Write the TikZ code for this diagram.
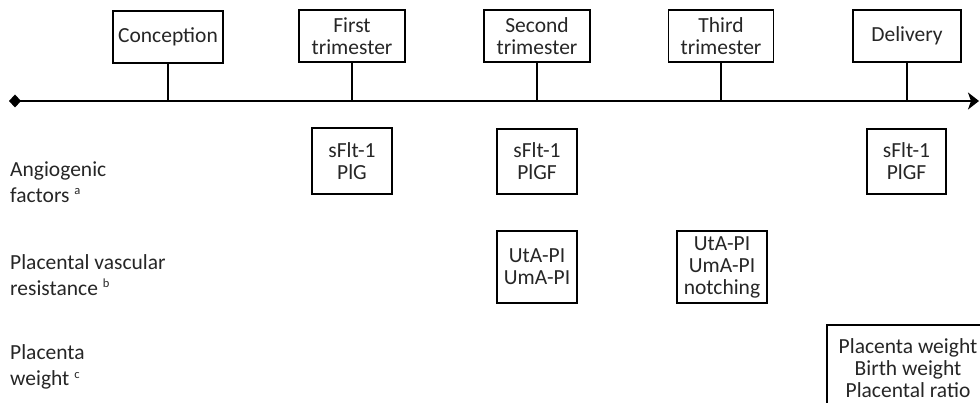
\documentclass[tikz,border=0pt]{standalone}
\usepackage{fontspec}
\setmainfont{Carlito}
\usetikzlibrary{arrows.meta}
\definecolor{inkgrey}{HTML}{262626}
\tikzset{
  stagebox/.style={draw, line width=1.2pt, align=center, inner sep=0pt,
    font=\fontsize{21.5}{22}\selectfont, text=inkgrey},
  tick/.style={line width=1.2pt},
  rowlabel/.style={anchor=west, align=left, inner sep=0pt,
    font=\fontsize{21.5}{26}\selectfont, text=inkgrey},
  timeline/.style={line width=2.8pt, {Diamond[length=12pt,width=13pt]}-{Stealth[length=11pt,width=17pt,inset=3pt]}}
}
\newcommand{\rowsup}[1]{\textsuperscript{\fontsize{12.5}{12.5}\selectfont #1}}
\begin{document}
\begin{tikzpicture}[x=1pt,y=-1pt]
\clip (0,0) rectangle (980,403);
\useasboundingbox (0,0) rectangle (980,403);
% timeline
\coordinate (tlS) at (9,101);
\coordinate (tlE) at (979,101);
% stage boxes
\node[stagebox, minimum width=110, minimum height=52] (conc) at (168,37) {Conception};
\node[stagebox, minimum width=106, minimum height=52] (first) at (352,36) {First\\trimester};
\node[stagebox, minimum width=106, minimum height=52] (second) at (537,36) {Second\\trimester};
\node[stagebox, minimum width=105, minimum height=52] (third) at (721,36) {Third\\trimester};
\node[stagebox, minimum width=108, minimum height=52] (deliv) at (907,36) {Delivery};
\draw[timeline] (tlS) -- (tlE);
\foreach \n in {conc,first,second,third,deliv}
  \draw[tick] (\n.south) -- (\n.south |- tlS);
% row labels
\node[rowlabel] (lab1) at (10,182) {Angiogenic\\factors \rowsup{a}};
\node[rowlabel] (lab2) at (10,275) {Placental vascular\\resistance \rowsup{b}};
\node[rowlabel] (lab3) at (10,367) {Placenta\\weight \rowsup{c}};
% measurement boxes
\node[stagebox, minimum width=80, minimum height=66] (a1) at (352,161) {sFlt-1\\PlG};
\node[stagebox, minimum width=80, minimum height=65] (a2) at (537,161.5) {sFlt-1\\PlGF};
\node[stagebox, minimum width=79, minimum height=65] (a3) at (906.5,161.5) {sFlt-1\\PlGF};
\node[stagebox, minimum width=80, minimum height=72] (v2) at (537,267) {UtA-PI\\UmA-PI};
\node[stagebox, minimum width=90, minimum height=72] (v3) at (722,267) {UtA-PI\\UmA-PI\\notching};
\node[stagebox, minimum width=162, minimum height=86] (p1) at (908,368) {Placenta weight\\Birth weight\\Placental ratio};
\end{tikzpicture}
\end{document}
